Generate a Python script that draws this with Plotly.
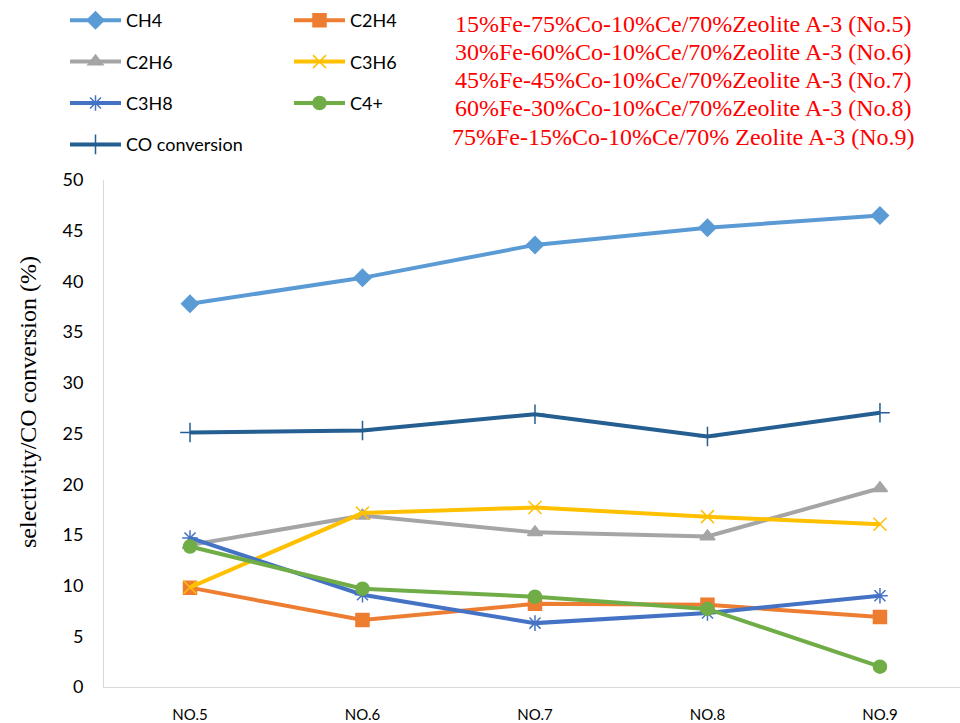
import plotly.graph_objects as go

categories = ["NO.5", "NO.6", "NO.7", "NO.8", "NO.9"]
ch4 = [37.8, 40.35, 43.6, 45.3, 46.5]
c2h4 = [9.8, 6.6, 8.2, 8.1, 6.9]
c2h6 = [14.0, 16.9, 15.25, 14.85, 19.6]
c3h6 = [9.83, 17.15, 17.7, 16.8, 16.05]
c3h8 = [14.7, 9.1, 6.3, 7.3, 9.0]
c4p = [13.85, 9.7, 8.9, 7.7, 2.0]
co_conv = [25.1, 25.3, 26.9, 24.7, 27.05]

catalyst_notes = [
    "15%Fe-75%Co-10%Ce/70%Zeolite A-3 (No.5)",
    "30%Fe-60%Co-10%Ce/70%Zeolite A-3 (No.6)",
    "45%Fe-45%Co-10%Ce/70%Zeolite A-3 (No.7)",
    "60%Fe-30%Co-10%Ce/70%Zeolite A-3 (No.8)",
    "75%Fe-15%Co-10%Ce/70% Zeolite A-3 (No.9)",
]

y_title = "selectivity/CO conversion (%)"

series = [
    ("CH4", ch4, "#5B9BD5", "diamond", 13, "legend"),
    ("C2H4", c2h4, "#ED7D31", "square", 13, "legend2"),
    ("C2H6", c2h6, "#A5A5A5", "triangle-up", 13, "legend"),
    ("C3H6", c3h6, "#FFC000", "x-thin-open", 13, "legend2"),
    ("C3H8", c3h8, "#4472C4", "asterisk-open", 13, "legend"),
    ("C4+", c4p, "#70AD47", "circle", 13, "legend2"),
    ("CO conversion", co_conv, "#255E91", "cross-thin-open", 14, "legend"),
]

xpos = list(range(len(categories)))

fig = go.Figure()
for name, vals, color, sym, size, leg in series:
    fig.add_trace(go.Scatter(
        x=xpos, y=vals, name=name, mode="lines+markers",
        line=dict(color=color, width=4),
        marker=dict(symbol=sym, size=size, color=color,
                    line=dict(color=color, width=1.5)),
        legend=leg, legendgroup=name,
    ))

for i, t in enumerate(catalyst_notes):
    fig.add_annotation(
        text=t, xref="paper", yref="paper", x=(683 - 104) / 856,
        y=1 + (180 - (23.7 + 28.25 * i)) / 507,
        xanchor="center", yanchor="middle", showarrow=False,
        font=dict(family="Liberation Serif", size=24, color="#FF0000"),
    )

fig.add_annotation(
    text=y_title, xref="paper", yref="paper",
    x=-(104 - 28) / 856, y=(687 - 402) / 507, xanchor="center", yanchor="middle",
    textangle=-90, showarrow=False,
    font=dict(family="Liberation Serif", size=24, color="#000000"),
)

legend_common = dict(
    orientation="v", xref="container", yref="container",
    xanchor="left", yanchor="top", traceorder="grouped",
    tracegroupgap=15, itemwidth=51,
    font=dict(family="Lato", size=18, color="#000000"),
    bgcolor="rgba(0,0,0,0)", borderwidth=0,
)

fig.update_layout(
    width=960, height=723,
    margin=dict(l=104, r=0, t=180, b=36, autoexpand=False),
    paper_bgcolor="white", plot_bgcolor="white",
    showlegend=True,
    legend=dict(legend_common, x=65 / 960, y=1 - 2 / 723),
    legend2=dict(legend_common, x=289 / 960, y=1 - 2 / 723),
    xaxis=dict(
        range=[-0.4986, 4.464], tickvals=xpos, ticktext=categories,
        showline=True, linecolor="#D9D9D9", linewidth=1,
        showgrid=False, zeroline=False,
        ticks="outside", ticklen=14, tickcolor="rgba(0,0,0,0)",
        tickfont=dict(family="Lato", size=15, color="#000000"),
    ),
    yaxis=dict(
        range=[0, 50], dtick=5, showline=True, linecolor="#D9D9D9",
        linewidth=1, showgrid=False, zeroline=False,
        ticks="outside", ticklen=16, tickcolor="rgba(0,0,0,0)",
        tickfont=dict(family="Lato", size=18, color="#000000"),
    ),
)

fig.write_html("out.html")
